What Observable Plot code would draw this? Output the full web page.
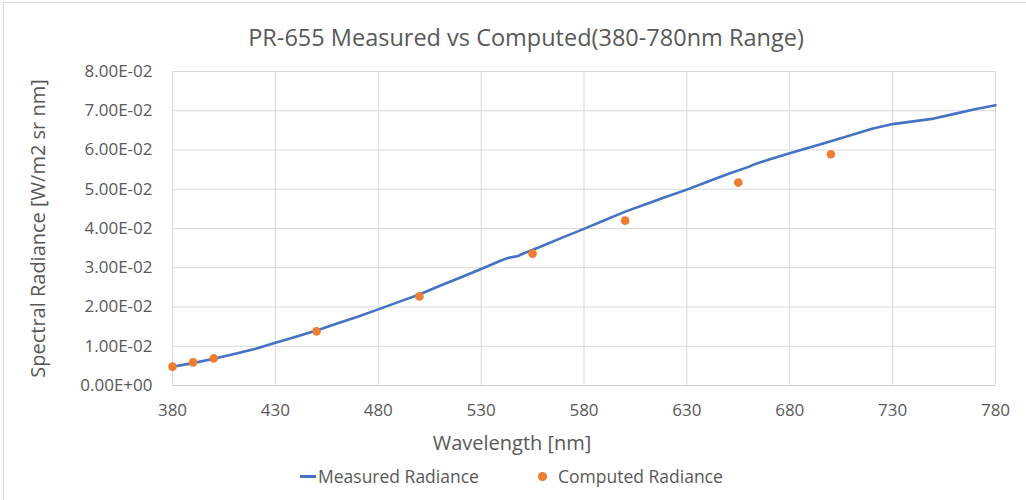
<!DOCTYPE html>
<html><head><meta charset="utf-8">
<script src="https://cdn.jsdelivr.net/npm/d3@7"></script>
<script src="https://cdn.jsdelivr.net/npm/@observablehq/plot@0.6"></script>
<style>
body{margin:0;background:#fff;font-family:"Open Sans",sans-serif;}
#wrap{position:relative;width:1026px;height:500px;overflow:hidden;background:#fff}
#frame{position:absolute;left:3px;top:2px;width:1040px;height:520px;border:1px solid #d9d9d9;box-sizing:border-box}
#title{position:absolute;left:26px;width:1000px;top:22px;text-align:center;font-size:23.5px;color:#595959;line-height:30px;white-space:nowrap}
#chart{position:absolute;left:0;top:60px}
#legend{position:absolute;left:0;top:465px;width:1026px;height:24px;font-size:17.5px;color:#595959}
.lg{position:absolute;top:0;line-height:22px;white-space:nowrap}
</style></head>
<body>
<div id="wrap">
<div id="frame"></div>
<div id="title">PR-655 Measured vs Computed(380-780nm Range)</div>
<div id="chart"></div>
<div id="legend"></div>
</div>
<script>
const measuredWavelength = [380,390,400,410,420,430,440,450,460,470,480,490,500,510,520,530,540,543,548,550,560,570,580,590,600,610,620,630,640,650,660,663,670,680,690,700,710,720,730,740,750,760,770,780];
const measuredRadiance = [0.0048,0.0057,0.0068,0.0080,0.0093,0.0109,0.0124,0.0140,0.0158,0.0175,0.0194,0.0213,0.0232,0.0254,0.0275,0.0297,0.0319,0.0325,0.0330,0.0335,0.0356,0.0378,0.0399,0.0421,0.0443,0.0462,0.0481,0.0499,0.0519,0.0539,0.0557,0.0564,0.0576,0.0592,0.0607,0.0622,0.0638,0.0654,0.0666,0.0673,0.0680,0.0692,0.0704,0.0714];
const computedWavelength = [380,390,400,450,500,555,600,655,700];
const computedRadiance = [0.0048,0.0059,0.0069,0.0138,0.0227,0.0336,0.0420,0.0517,0.0589];
const xTicks = [380,430,480,530,580,630,680,730,780];
const yTicks = [0,0.01,0.02,0.03,0.04,0.05,0.06,0.07,0.08];
const seriesNames = ["Measured Radiance","Computed Radiance"];
const seriesColors = ["#4472c4","#ed7d31"];

const measured = measuredWavelength.map((w,i)=>({w, v: measuredRadiance[i]}));
const computed = computedWavelength.map((w,i)=>({w, v: computedRadiance[i]}));

function sci(d){
  const [m,e] = d.toExponential(2).split("e");
  const n = Math.abs(+e);
  return m + "E" + (+e < 0 ? "-" : "+") + String(n).padStart(2,"0");
}

const chart = Plot.plot({
  width: 1026, height: 400,
  marginLeft: 172, marginRight: 31, marginTop: 11, marginBottom: 75,
  style: {fontFamily: "'Open Sans', sans-serif", fontSize: "17px", color: "#595959", background: "transparent"},
  x: {domain: [380,780]},
  y: {domain: [0,0.08]},
  marks: [
    Plot.gridX(xTicks, {stroke: "#d9d9d9", strokeOpacity: 1}),
    Plot.gridY(yTicks, {stroke: "#d9d9d9", strokeOpacity: 1}),
    Plot.ruleY([0], {stroke: "#d0d0d0"}),
    Plot.axisX(xTicks, {tickSize: 0, tickPadding: 18, label: null, tickFormat: d => String(d)}),
    Plot.axisY(yTicks, {tickSize: 0, tickPadding: 20, label: null, tickFormat: sci}),
    Plot.line(measured, {x: "w", y: "v", stroke: seriesColors[0], strokeWidth: 2.6}),
    Plot.dot(computed, {x: "w", y: "v", fill: seriesColors[1], r: 4.3}),
    Plot.text(["Wavelength [nm]"], {frameAnchor: "bottom", textAnchor: "middle", dx: -72, dy: 64, fontSize: 20, fill: "#595959"}),
    Plot.text(["Spectral Radiance [W/m2 sr nm]"], {frameAnchor: "left", textAnchor: "middle", lineAnchor: "middle", dx: -134, rotate: -90, fontSize: 20, fill: "#595959"})
  ]
});
document.getElementById("chart").appendChild(chart);

const lg = document.getElementById("legend");
lg.innerHTML =
  `<div style="position:absolute;left:300px;top:10px;width:16px;height:2.6px;background:${seriesColors[0]}"></div>` +
  `<div class="lg" style="left:318px">${seriesNames[0]}</div>` +
  `<div style="position:absolute;left:538px;top:7px;width:8.6px;height:8.6px;border-radius:50%;background:${seriesColors[1]}"></div>` +
  `<div class="lg" style="left:558px">${seriesNames[1]}</div>`;
</script>
</body></html>
